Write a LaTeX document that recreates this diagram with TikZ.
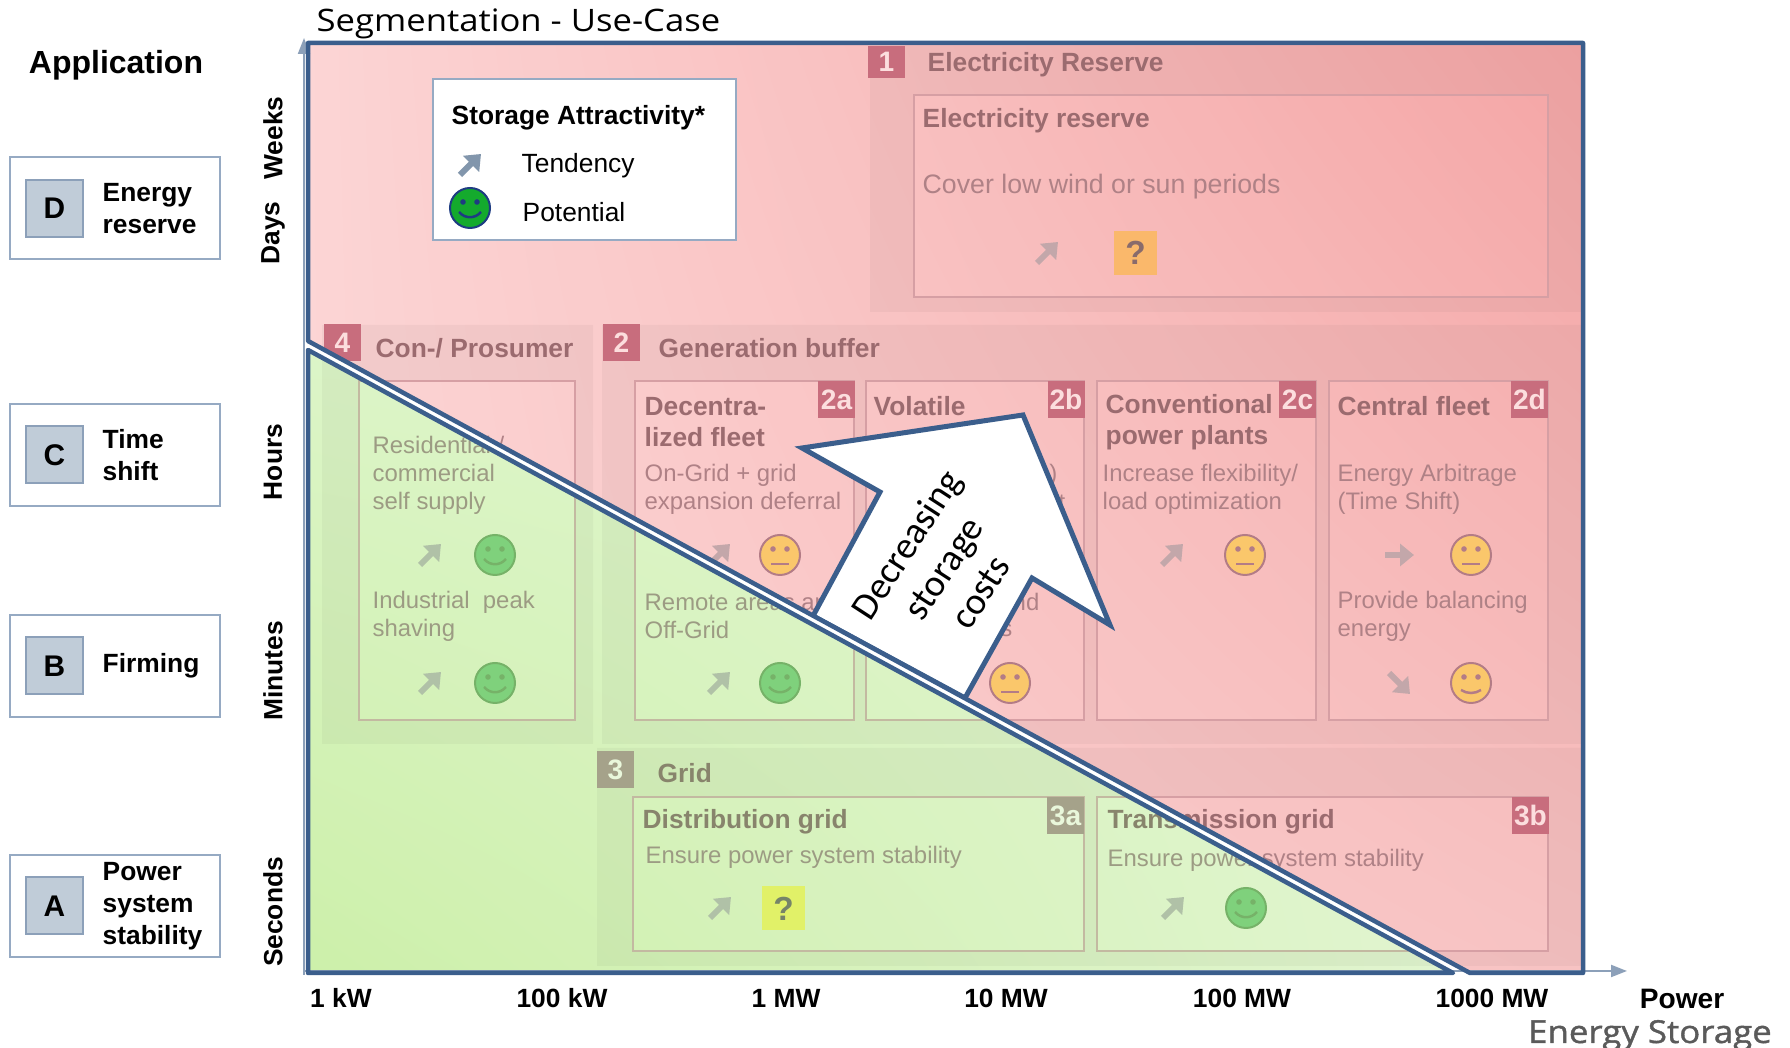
\documentclass[tikz,border=0pt]{standalone}
\usepackage{fontspec}
\setmainfont{Liberation Sans}
\newfontfamily\headfont[FakeStretch=1.12]{Open Sans}
\newfontfamily\brandfont[FakeStretch=1.1,FakeBold=1.2]{Open Sans}
\newfontfamily\notefont{Carlito}
\usetikzlibrary{arrows.meta,shadings}
\definecolor{frameblue}{RGB}{59,94,140}
\definecolor{axisgrey}{RGB}{140,160,185}
\definecolor{boxline}{RGB}{150,170,195}
\definecolor{letterfill}{RGB}{192,204,216}
\definecolor{letterline}{RGB}{140,160,185}
\definecolor{redov}{RGB}{250,195,195}
\definecolor{greenov}{RGB}{215,242,190}
\definecolor{redUL}{RGB}{255,235,235}
\definecolor{redUR}{RGB}{239,129,129}
\definecolor{redLR}{RGB}{245,196,196}
\definecolor{grnUL}{RGB}{227,249,212}
\definecolor{grnLL}{RGB}{193,238,146}
\definecolor{grnLR}{RGB}{238,249,230}
\definecolor{ttl}{RGB}{40,0,10}
\definecolor{dsc}{RGB}{85,50,60}
\definecolor{badgered}{RGB}{140,5,40}
\definecolor{badgegrey}{RGB}{105,65,75}
\definecolor{cellline}{RGB}{172,116,127}
\definecolor{tendgrey}{RGB}{130,135,140}
\definecolor{legendarrow}{RGB}{130,150,172}
\definecolor{facegreen}{RGB}{20,170,45}
\definecolor{faceyellow}{RGB}{250,205,0}
\definecolor{faceedge}{RGB}{94,39,60}
\definecolor{navy}{RGB}{30,60,130}
\definecolor{qorange}{RGB}{250,172,0}
\definecolor{qyellow}{RGB}{238,240,0}
\definecolor{esgrey}{RGB}{90,90,90}
\newcommand{\redzone}{(308,43) -- (1583,43) -- (1583,973) -- (1470,973) -- (308,341) -- cycle}
\newcommand{\greenzone}{(308,350) -- (1453,973) -- (308,973) -- cycle}
\begin{document}
\begin{tikzpicture}[x=0.1mm,y=-0.1mm]
    \tikzset{panel/.style = {fill=black, fill opacity=0.08, even odd rule}}
    \tikzset{cell/.style = {draw=cellline, line width=0.15mm}}
    \tikzset{badge/.style = {fill=badgered, text=white, font=\fontsize{8}{9}\selectfont\bfseries, minimum width=3.7mm, minimum height=3.7mm, inner sep=0}}
    \tikzset{ttltext/.style = {anchor=west, inner sep=0, align=left, text=ttl, font=\fontsize{7.5}{8.8}\selectfont\bfseries}}
    \tikzset{dsctext/.style = {anchor=west, inner sep=0, align=left, text=dsc, font=\fontsize{6.8}{8}\selectfont}}
    \tikzset{tend/.style = {draw=tendgrey, line width=0.6mm, -{Triangle[width=2.2mm,length=1.4mm]}}}
    \tikzset{qbox/.style = {minimum width=4.3mm, minimum height=4.4mm, inner sep=0, font=\fontsize{9.5}{10}\selectfont\bfseries}}
    \tikzset{appbox/.style = {draw=boxline, line width=0.2mm, fill=white, minimum width=21mm, minimum height=10.2mm, inner sep=0}}
    \tikzset{letterbox/.style = {draw=letterline, line width=0.2mm, fill=letterfill, minimum size=5.7mm, inner sep=0, font=\fontsize{8.5}{10}\selectfont\bfseries}}
    \tikzset{applabel/.style = {anchor=west, inner sep=0, align=left, font=\fontsize{7.5}{9.1}\selectfont\bfseries}}
    \tikzset{axislabel/.style = {inner sep=0, font=\fontsize{7.5}{9}\selectfont\bfseries}}
    \tikzset{happy/.pic = {
        \filldraw[fill=facegreen, draw=#1, line width=0.2mm] (0,0) circle[radius=20];
        \fill[#1] (-7,-6) circle[radius=2.8] (7,-6) circle[radius=2.8];
        \draw[#1, line width=0.25mm] (-11,4) .. controls (-5,11) and (5,11) .. (11,4);}}
    \tikzset{meh/.pic = {
        \filldraw[fill=faceyellow, draw=faceedge, line width=0.2mm] (0,0) circle[radius=20];
        \fill[faceedge] (-7,-6) circle[radius=2.8] (7,-6) circle[radius=2.8];
        \draw[faceedge, line width=0.25mm] (-9,9) -- (9,9);}}
    \tikzset{slight/.pic = {
        \filldraw[fill=faceyellow, draw=faceedge, line width=0.2mm] (0,0) circle[radius=20];
        \fill[faceedge] (-7,-6) circle[radius=2.8] (7,-6) circle[radius=2.8];
        \draw[faceedge, line width=0.25mm] (-10,7) .. controls (-4,11) and (4,11) .. (10,7);}}
    \useasboundingbox[fill=white] (0,0) rectangle (1790,1048);
    \shade[upper left=redUL, upper right=redUR, lower left=redUL, lower right=redLR] \redzone;
    \shade[upper left=grnUL, upper right=grnLR, lower left=grnLL, lower right=grnLR] \greenzone;
    \fill[panel] (870,46) rectangle (1583,312) (914,95) rectangle (1548,297);
    \fill[panel] (322,325) rectangle (593,744) (359,381) rectangle (575,720);
    \fill[panel] (602,325) rectangle (1583,744) (635,381) rectangle (854,720) (866,381) rectangle (1084,720)
        (1097,381) rectangle (1316,720) (1329,381) rectangle (1548,720);
    \fill[panel] (597,748) rectangle (1583,966) (633,797) rectangle (1084,951) (1097,797) rectangle (1548,951);
    \foreach \xa/\ya/\xb/\yb in {914/95/1548/297, 359/381/575/720, 635/381/854/720, 866/381/1084/720,
        1097/381/1316/720, 1329/381/1548/720, 633/797/1084/951, 1097/797/1548/951}
        \draw[cell] (\xa,\ya) rectangle (\xb,\yb);
    \node[badge, minimum height=3.2mm] (b1) at (886.5,62) {1};
    \node[badge] (b4) at (342.5,342.5) {4};
    \node[badge] (b2) at (621.5,342.5) {2};
    \node[badge] (b2a) at (836.5,399.5) {2a};
    \node[badge] (b2b) at (1066,399.5) {2b};
    \node[badge] (b2c) at (1297.5,399.5) {2c};
    \node[badge] (b2d) at (1529.5,399.5) {2d};
    \node[badge, fill=badgegrey] (b3) at (615.5,770) {3};
    \node[badge, fill=badgegrey] (b3a) at (1065.5,815.5) {3a};
    \node[badge] (b3b) at (1530.5,815.5) {3b};
    \node[ttltext] (t1) at (927,65) {Electricity Reserve};
    \node[ttltext] (t4) at (375,348) {Con-/ Prosumer};
    \node[ttltext] (t2) at (658,348) {Generation buffer};
    \node[ttltext] (t3) at (657,773) {Grid};
    \node[ttltext] (c1) at (922,121) {Electricity reserve};
    \node[ttltext] (c2a) at (644,422) {Decentra-\\lized fleet};
    \node[ttltext] (c2b) at (873,406) {Volatile};
    \node[ttltext] (c2c) at (1105,422) {Conventional\\power plants};
    \node[ttltext] (c2d) at (1337,406) {Central fleet};
    \node[ttltext] (c3a) at (642,822) {Distribution grid};
    \node[ttltext] (c3b) at (1107,822) {Transmission grid};
    \node[dsctext, font=\fontsize{7.6}{8}\selectfont] (d1) at (922,187) {Cover low wind or sun periods};
    \node[dsctext] (d4a) at (372,475) {Residential /\\commercial\\self supply};
    \node[dsctext] (d4b) at (372,616) {Industrial\ \ peak\\shaving};
    \node[dsctext] (d2a1) at (644,489) {On-Grid + grid\\expansion deferral};
    \node[dsctext] (d2a2) at (644,616) {Remote areas and\\Off-Grid};
    \node[dsctext, anchor=east] (d2b1) at (1058,475) {)};
    \node[dsctext, anchor=east] (d2b2) at (1066,503) {t};
    \node[dsctext, anchor=east] (d2b3) at (1040,602) {nd};
    \node[dsctext, anchor=east] (d2b4) at (1013,630) {s};
    \node[dsctext] (d2c) at (1102,489) {Increase flexibility/\\load optimization};
    \node[dsctext] (d2d1) at (1337,489) {Energy Arbitrage\\(Time Shift)};
    \node[dsctext] (d2d2) at (1337,616) {Provide balancing\\energy};
    \node[dsctext] (d3a) at (645,857) {Ensure power system stability};
    \node[dsctext] (d3b) at (1107,860) {Ensure power system stability};
    \foreach \x/\y in {1047/253, 430/555, 430/683, 719/555, 719/683, 1172/555, 720/908, 1173/908}
        \draw[tend] (\x-10,\y+10) -- (\x+11,\y-11);
    \draw[tend] (1385,555) -- (1414,555);
    \draw[tend] (1389,673) -- (1410,694);
    \foreach \x/\y in {495/555, 495/683, 780/683, 1246/908}
        \pic at (\x,\y) {happy=green!40!black};
    \foreach \x/\y in {780/555, 1010/683, 1245/555, 1471/555}
        \pic at (\x,\y) {meh};
    \pic at (1471,683) {slight};
    \node[qbox, fill=qorange] (q1) at (1135.5,253) {?};
    \node[qbox, fill=qyellow] (q3a) at (783.5,908.5) {?};
    \fill[redov, fill opacity=0.55] \redzone;
    \fill[greenov, fill opacity=0.55] \greenzone;
    \filldraw[fill=white, draw=frameblue, line width=0.5mm, line join=miter] (813,616) -- (880,492) -- (802,448)
        -- (1023,415) -- (1110,625) -- (1032,578) -- (965,698) -- cycle;
    \node[rotate=57, align=center, inner sep=0, font=\notefont\fontsize{10.8}{12.5}\selectfont] (cost) at (943,568) {Decreasing\\storage\\costs};
    \draw[white, line width=0.8mm] (308,345.5) -- (1461.5,973);
    \coordinate (origin) at (304,975);
    \coordinate (ytop) at (304,38);
    \coordinate (xstart) at (304,971);
    \coordinate (xend) at (1627,971);
    \draw[axisgrey, line width=0.2mm, -{Triangle[width=1.2mm,length=1.6mm]}] (origin) -- (ytop);
    \draw[axisgrey, line width=0.2mm, -{Triangle[width=1.2mm,length=1.6mm]}] (xstart) -- (xend);
    \draw[frameblue, line width=0.45mm, line join=round] \redzone;
    \draw[frameblue, line width=0.45mm, line join=round] \greenzone;
    \node[draw=boxline, fill=white, line width=0.15mm, minimum width=30.3mm, minimum height=16.1mm, inner sep=0] (legend) at (584.5,159.5) {};
    \node[anchor=west, inner sep=0, font=\fontsize{7.5}{9}\selectfont\bfseries] (lgtitle) at (451,118) {Storage Attractivity*};
    \draw[tend, draw=legendarrow] (460,175) -- (481,154);
    \node[anchor=west, inner sep=0, font=\fontsize{7.5}{9}\selectfont] (lgtend) at (521,166) {Tendency};
    \pic at (470,208) {happy=navy};
    \node[anchor=west, inner sep=0, font=\fontsize{7.5}{9}\selectfont] (lgpot) at (522,212) {Potential};
    \node[anchor=base west, inner sep=0, font=\headfont\fontsize{8.8}{10}\selectfont] (title) at (316,32) {Segmentation - Use-Case};
    \node[inner sep=0, font=\fontsize{9.1}{10}\selectfont\bfseries] (appl) at (116,65) {Application};
    \foreach \y/\l/\txt in {208.5/D/{Energy\\reserve}, 455/C/{Time\\shift}, 666/B/Firming, 906/A/{Power\\system\\stability}} {
        \node[appbox] (app\l) at (115,\y) {};
        \node[letterbox] (let\l) at (54.5,\y) {\l};
        \node[applabel] (lab\l) at (102,\y) {\txt};
    }
    \foreach \y/\txt in {138/Weeks, 233/Days, 462/Hours, 671/Minutes, 912/Seconds}
        \node[axislabel, rotate=90] (ax\txt) at (273,\y) {\txt};
    \foreach \x/\txt [count=\i] in {341/1 kW, 562/100 kW, 786/1 MW, 1006/10 MW, 1242/100 MW, 1492/1000 MW}
        \node[axislabel] (xl\i) at (\x,998) {\txt};
    \node[axislabel, font=\fontsize{8}{9}\selectfont\bfseries] (power) at (1682,999) {Power};
    \node[anchor=base, inner sep=0, text=esgrey, font=\brandfont\fontsize{9}{10}\selectfont] (brand) at (1650,1043) {Energy Storage};
\end{tikzpicture}
\end{document}
